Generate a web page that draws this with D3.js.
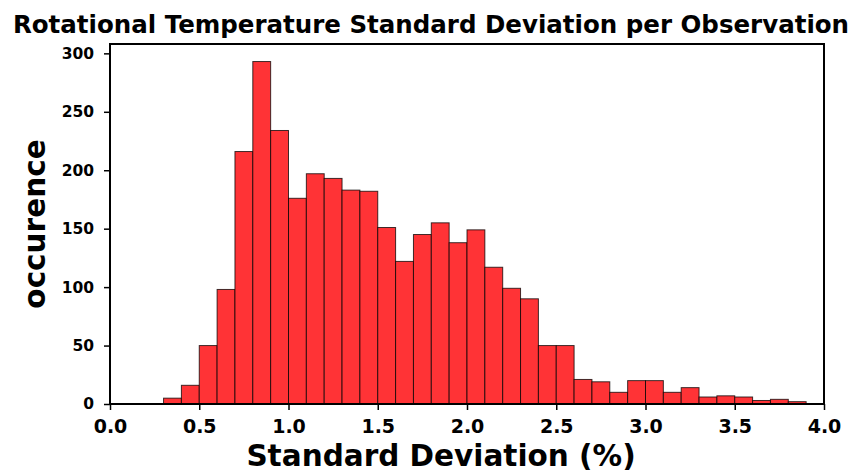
<!DOCTYPE html>
<html>
<head>
<meta charset="utf-8">
<script src="https://cdn.jsdelivr.net/npm/d3@7.9.0/dist/d3.min.js"></script>
<style>
  body { margin: 0; background: #fff; }
  svg { display: block; font-family: "DejaVu Sans", sans-serif; font-weight: bold; }
</style>
</head>
<body>
<div id="chart"></div>
<script>
// Histogram bins (left edge, %) and counts
const binStarts = [0.3, 0.4, 0.5, 0.6, 0.7, 0.8, 0.9, 1.0, 1.1, 1.2, 1.3, 1.4, 1.5, 1.6, 1.7, 1.8, 1.9,
  2.0, 2.1, 2.2, 2.3, 2.4, 2.5, 2.6, 2.7, 2.8, 2.9, 3.0, 3.1, 3.2, 3.3, 3.4, 3.5, 3.6, 3.7, 3.8];
const counts = [5, 16, 50, 98, 216, 293, 234, 176, 197, 193, 183, 182, 151, 122, 145, 155, 138,
  149, 117, 99, 90, 50, 50, 21, 19, 10, 20, 20, 10, 14, 6, 7, 6, 3, 4, 2];
const binWidth = 0.1;
const xTicks = [0.0, 0.5, 1.0, 1.5, 2.0, 2.5, 3.0, 3.5, 4.0];
const yTicks = [0, 50, 100, 150, 200, 250, 300];

const width = 852, height = 470;
const margin = { top: 44, right: 28, bottom: 66, left: 110 };

const svg = d3.select('#chart').append('svg')
    .attr('width', width)
    .attr('height', height);

const x = d3.scaleLinear()
    .domain([0, 4])
    .range([margin.left, width - margin.right]);

const y = d3.scaleLinear()
    .domain([0, 308])
    .range([height - margin.bottom, margin.top]);

// Bars
svg.append('g')
    .selectAll('rect')
    .data(counts)
    .enter()
    .append('rect')
    .attr('x', (d, i) => x(binStarts[i]))
    .attr('y', d => y(d))
    .attr('width', (d, i) => x(binStarts[i] + binWidth) - x(binStarts[i]))
    .attr('height', d => y(0) - y(d))
    .attr('fill', '#ff3336')
    .attr('stroke', '#000')
    .attr('stroke-opacity', 0.75)
    .attr('stroke-width', 1);

// Axes
const xAxis = d3.axisBottom(x)
    .tickValues(xTicks)
    .tickFormat(d3.format('.1f'))
    .tickSize(6)
    .tickPadding(10);

const yAxis = d3.axisLeft(y)
    .tickValues(yTicks)
    .tickSize(6)
    .tickPadding(10);

svg.append('g')
    .attr('transform', `translate(0,${height - margin.bottom})`)
    .call(xAxis)
    .call(g => g.select('.domain').remove())
    .call(g => g.selectAll('line').attr('stroke', '#000').attr('stroke-width', 1.5))
    .call(g => g.selectAll('text').attr('fill', '#000')
        .style('font-size', '19px').style('font-weight', 'bold')
        .style('font-family', '"DejaVu Sans", sans-serif'));

svg.append('g')
    .attr('transform', `translate(${margin.left},0)`)
    .call(yAxis)
    .call(g => g.select('.domain').remove())
    .call(g => g.selectAll('line').attr('stroke', '#000').attr('stroke-width', 1.5))
    .call(g => g.selectAll('text').attr('fill', '#000')
        .style('font-size', '15.5px').style('font-weight', 'bold')
        .style('font-family', '"DejaVu Sans", sans-serif'));

// Frame
svg.append('rect')
    .attr('x', x(0))
    .attr('y', margin.top)
    .attr('width', x(4) - x(0))
    .attr('height', y(0) - margin.top)
    .attr('fill', 'none')
    .attr('stroke', '#000')
    .attr('stroke-width', 2);

// Labels
svg.append('text')
    .attr('x', 431)
    .attr('y', 33)
    .attr('text-anchor', 'middle')
    .style('font-size', '24.5px')
    .text('Rotational Temperature Standard Deviation per Observation');

svg.append('text')
    .attr('x', 441)
    .attr('y', 466)
    .attr('text-anchor', 'middle')
    .style('font-size', '29.5px')
    .text('Standard Deviation (%)');

svg.append('text')
    .attr('transform', `translate(45,${(margin.top + y(0)) / 2}) rotate(-90)`)
    .attr('text-anchor', 'middle')
    .style('font-size', '29.5px')
    .text('occurence');
</script>
</body>
</html>
